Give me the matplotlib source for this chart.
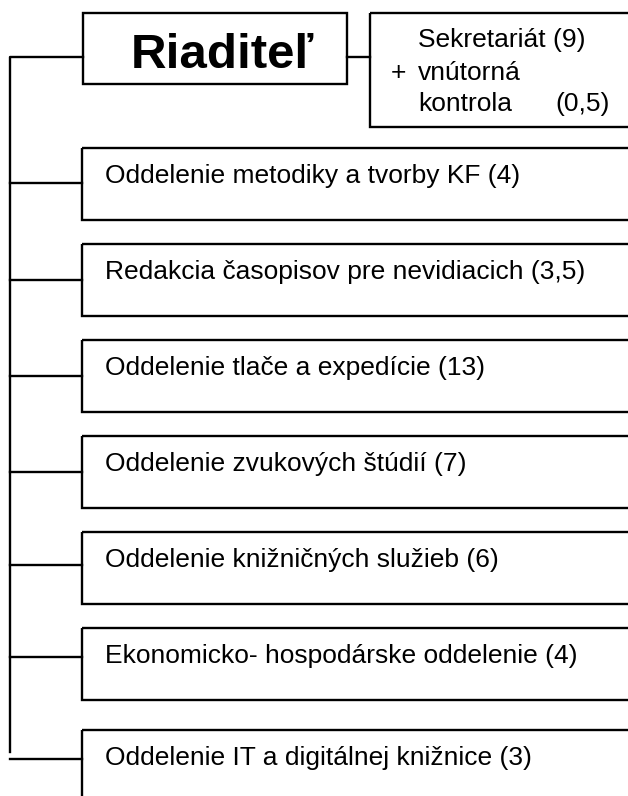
import matplotlib.pyplot as plt
from matplotlib.patches import Rectangle

plt.rcParams['font.family'] = ['Liberation Sans', 'DejaVu Sans']

# org chart content
head = "Riaditeľ"
staff_lines = ["Sekretariát (9)", "vnútorná", "kontrola", "(0,5)"]
departments = [
    "Oddelenie metodiky a tvorby KF",
    "Redakcia časopisov pre nevidiacich",
    "Oddelenie tlače a expedície",
    "Oddelenie zvukových štúdií",
    "Oddelenie knižničných služieb",
    "Ekonomicko- hospodárske oddelenie",
    "Oddelenie IT a digitálnej knižnice",
]
headcount = ["4", "3,5", "13", "7", "6", "4", "3"]

# layout (pixels, as in the scanned chart)
box_tops = [148, 244, 340, 436, 532, 628, 730]
link_off = [35, 36, 36, 36, 33, 29, 29]

W, H = 628, 796
fig = plt.figure(figsize=(W / 100, H / 100), dpi=100)
ax = fig.add_axes([0, 0, 1, 1])
ax.set_xlim(0, W)
ax.set_ylim(H, 0)
ax.axis('off')

lw = 1.7
fs = 19
# director box
ax.add_patch(Rectangle((83, 13), 264, 71, fill=False, lw=lw, color='black'))
ax.text(222, 68, head, fontsize=35.5, fontweight='bold', ha='center', va='baseline')
# secretariat box
ax.plot([347, 370], [57, 57], color='black', lw=lw)
ax.add_patch(Rectangle((370, 13), 300, 114, fill=False, lw=lw, color='black'))
ax.text(418, 47, staff_lines[0], fontsize=fs, ha='left', va='baseline')
ax.text(391, 80, "+", fontsize=fs, ha='left', va='baseline')
ax.text(418, 80, staff_lines[1], fontsize=fs, ha='left', va='baseline')
ax.text(418, 111, staff_lines[2], fontsize=fs, ha='left', va='baseline')
ax.text(555, 111, staff_lines[3], fontsize=fs, ha='left', va='baseline')

# spine
ax.plot([83, 10, 10], [57, 57, 752], color='black', lw=lw)

for name, n, top, off in zip(departments, headcount, box_tops, link_off):
    ax.add_patch(Rectangle((82, top), 600, 72, fill=False, lw=lw, color='black'))
    ax.plot([10, 82], [top + off, top + off], color='black', lw=lw)
    ax.text(105, top + 35, f"{name} ({n})", fontsize=fs, ha='left', va='baseline')

fig.savefig('out.png', dpi=100)
